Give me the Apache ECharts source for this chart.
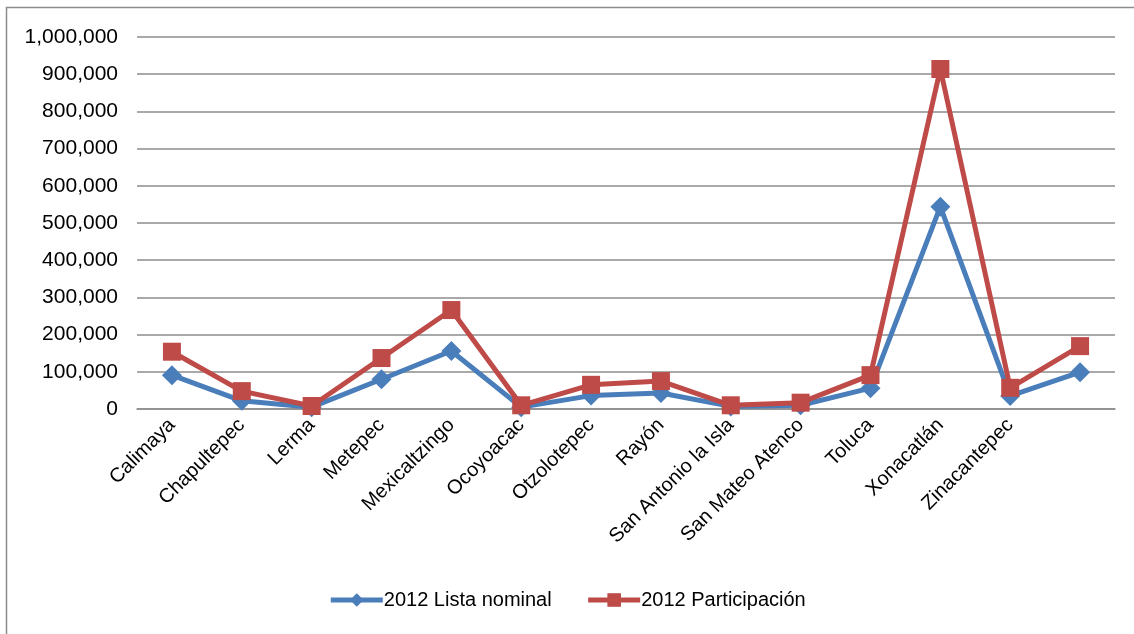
<!DOCTYPE html>
<html>
<head>
<meta charset="utf-8">
<script src="https://cdn.jsdelivr.net/npm/echarts@6/dist/echarts.min.js"></script>
<style>
  html, body { margin: 0; padding: 0; background: #fff; }
  #chart { width: 1134px; height: 634px; }
</style>
</head>
<body>
<div id="chart"></div>
<script>
const categories = ['Calimaya', 'Chapultepec', 'Lerma', 'Metepec', 'Mexicaltzingo', 'Ocoyoacac',
  'Otzolotepec', 'Rayón', 'San Antonio la Isla', 'San Mateo Atenco', 'Toluca', 'Xonacatlán',
  'Zinacantepec', '']
const listaNominal = [91000, 22000, 5000, 80000, 156000, 5000, 36000, 43000, 7000, 10000, 56000, 544000, 35000, 99000]
const participacion = [154000, 48000, 8000, 137000, 266000, 10000, 65000, 75000, 10000, 17000, 91000, 914000, 57000, 169000]
const seriesNames = ['2012 Lista nominal', '2012 Participación']

const font = 'Liberation Sans, Arial, sans-serif'

const chart = echarts.init(document.getElementById('chart'))
chart.setOption({
  backgroundColor: '#fff',
  animation: false,
  graphic: [{
    type: 'rect',
    shape: { x: 6.5, y: 7.5, width: 1140, height: 640 },
    style: { fill: 'none', stroke: '#8c8c8c', lineWidth: 1.5 },
    silent: true
  }],
  grid: { left: 137, right: 19, top: 37, bottom: 225 },
  legend: {
    bottom: 19,
    left: 'center',
    itemWidth: 52,
    itemHeight: 17,
    itemGap: 34,
    lineStyle: { width: 5 },
    textStyle: { fontFamily: font, fontSize: 20, color: '#000', padding: [0, 0, 0, -4] },
    data: seriesNames
  },
  xAxis: {
    type: 'category',
    data: categories,
    boundaryGap: true,
    axisLine: { lineStyle: { color: '#8c8c8c', width: 1.5 } },
    axisTick: { show: false },
    axisLabel: {
      interval: 0,
      rotate: 45,
      margin: 13,
      fontFamily: font,
      fontSize: 20,
      color: '#000'
    }
  },
  yAxis: {
    type: 'value',
    min: 0,
    max: 1000000,
    interval: 100000,
    axisLine: { show: false },
    axisTick: { show: false },
    splitLine: { lineStyle: { color: '#8c8c8c', width: 1.5 } },
    axisLabel: {
      margin: 19,
      fontFamily: font,
      fontSize: 21,
      color: '#000',
      formatter: v => v.toLocaleString('en-US')
    }
  },
  series: [{
    name: seriesNames[0],
    type: 'line',
    data: listaNominal,
    symbol: 'diamond',
    symbolSize: 20,
    lineStyle: { width: 5, color: '#4a7ebb' },
    itemStyle: { color: '#4a7ebb' },
    z: 2
  }, {
    name: seriesNames[1],
    type: 'line',
    data: participacion,
    symbol: 'rect',
    symbolSize: 18,
    lineStyle: { width: 5, color: '#be4b48' },
    itemStyle: { color: '#be4b48' },
    z: 3
  }]
})
</script>
</body>
</html>
